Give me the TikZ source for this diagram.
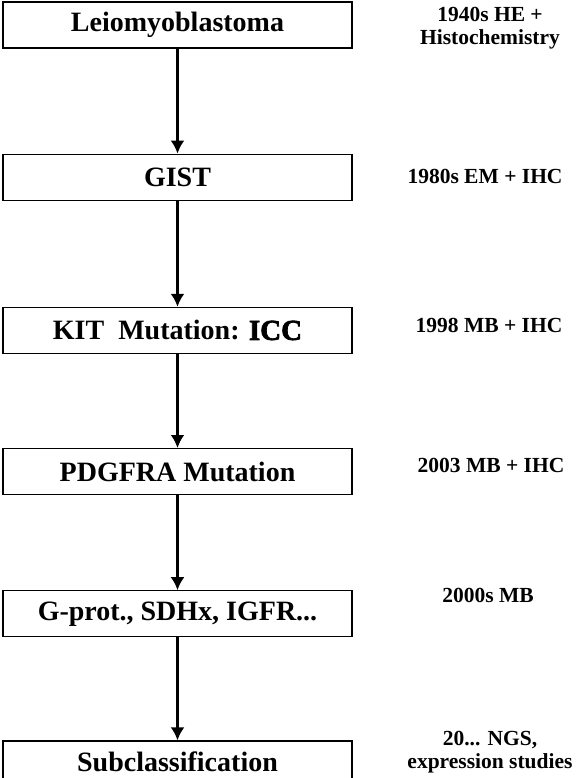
\documentclass[tikz,border=0pt]{standalone}
\usepackage{fontspec}
\setmainfont{Liberation Serif}
\newfontfamily\iccfont[BoldFeatures={FakeBold=2.5}]{Liberation Serif}
\usetikzlibrary{positioning,arrows.meta}

\begin{document}
\begin{tikzpicture}[
  x=1pt, y=-1pt,
  node distance=100pt and 0pt,
  stage/.style={draw=black, line width=1.2pt, fill=white, minimum width=349pt,
                minimum height=46pt, inner sep=0pt, align=center,
                font=\fontsize{28}{30}\selectfont\bfseries},
  note/.style={align=center, font=\fontsize{21.5}{23}\selectfont\bfseries},
  arr/.style={-{Latex[length=13pt,width=14pt]}, black, line width=2.6pt}
]
\useasboundingbox (0,0) rectangle (579,778);
\node[stage] (leio) at (177.5,25) {Leiomyoblastoma};
\node[stage, below=105pt of leio] (gist) {GIST};
\node[stage, below=106pt of gist] (kit)
  {KIT\ \ Mutation: {\fontsize{29}{30}\iccfont\bfseries ICC}};
\node[stage, below=94pt of kit] (pdgfra) {PDGFRA Mutation};
\node[stage, below=95pt of pdgfra] (gprot) {G-prot., SDHx, IGFR...};
\node[stage, below=103pt of gprot, minimum height=41pt] (subcl) {Subclassification};
\foreach \a/\b in {leio/gist, gist/kit, kit/pdgfra, pdgfra/gprot, gprot/subcl}
  \draw[arr] (\a) -- (\b);
% dating of each step
\node[note] (t1) at (490,28) {1940s HE +\\Histochemistry};
\node[note] (t2) at (485,176) {1980s EM + IHC};
\node[note] (t3) at (489,325) {1998 MB + IHC};
\node[note] (t4) at (491,465) {2003 MB + IHC};
\node[note] (t5) at (488,595) {2000s MB};
\node[note] (t6) at (490,752) {20... NGS,\\expression studies};
\end{tikzpicture}
\end{document}
